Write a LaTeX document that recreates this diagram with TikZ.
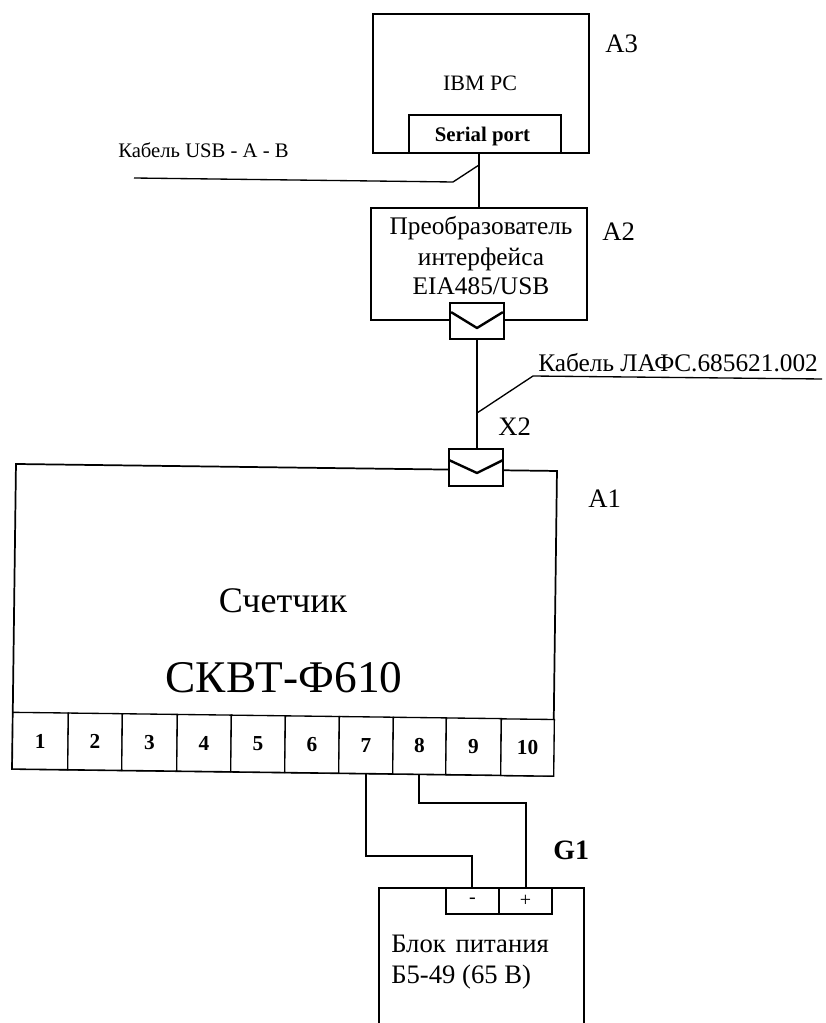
\documentclass[tikz,border=0pt]{standalone}
\usepackage{fontspec}
\setmainfont{Liberation Serif}
\usetikzlibrary{fit,calc}
\tikzset{
  box/.style={draw=black,line width=1.3pt,inner sep=0pt,rectangle},
  wire/.style={draw=black,line width=1.3pt,line join=miter},
  chev/.style={draw=black,line width=1.8pt,line join=round},
  lead/.style={draw=black,line width=1pt},
  txt/.style={inner sep=0pt,anchor=base,text=black},
  txtl/.style={inner sep=0pt,anchor=base west,text=black},
  cell/.style={draw=black,line width=1pt,inner sep=0pt,rectangle,rotate=-0.7,anchor=center},
}
\newcommand{\fsz}[1]{\fontsize{#1}{#1}\selectfont}
\begin{document}
\begin{tikzpicture}[x=0.75pt,y=-0.75pt]
\useasboundingbox (0,0) rectangle (825,1023);
\fill[white] (0,0) rectangle (825,1023);
% boxes
\node[box,fit={(373,14)(589,153)}] (pc) {};
\node[box,fill=white,fit={(409,115)(561,153)}] (serial) {};
\node[box,fit={(371,208)(587,320)}] (conv) {};
\node[box,rotate=-0.74,minimum width=405.8pt,minimum height=228.8pt,anchor=center] (a1) at (284.5,620) {};
\node[box,fill=white,fit={(450,303)(504,339)}] (cv) {};
\node[box,fill=white,fit={(449,449)(503,486)}] (cb) {};
% chevrons
\coordinate (cvm) at (477,328);
\coordinate (cbm) at (477,473);
\draw[chev] ($(cv.north west)+(2,10)$) -- (cvm) -- ($(cv.north east)+(-2,10)$);
\draw[chev] ($(cb.north west)+(1,12)$) -- (cbm) -- ($(cb.north east)+(-1,12)$);
% terminals
\foreach \n/\cx/\cy/\w in {1/40.3/741/55.5,2/95/741.7/54,3/149.5/742.4/55,4/204/743.1/54,5/258/743.8/54,6/312/744.5/54,7/366/745.2/54,8/419.5/745.9/53,9/473.5/746.6/55,10/527.5/747.5/53}{
  \node[cell,fill=white,minimum width=\w*0.75pt,minimum height=42.5pt] (t\n) at (\cx,\cy) {};
  \node[inner sep=0pt,font=\bfseries\fsz{16}] (n\n) at (t\n.center) {\n};
}
% power supply
\node[fit={(379,888)(584,1023)},inner sep=0pt] (psu) {};
\draw[wire] (psu.south west) -- (psu.north west) -- (psu.north east) -- (psu.south east);
\node[box,fit={(446,888)(499,914)}] (tm) {};
\node[box,fit={(499,888)(552,914)}] (tp) {};
\node[inner sep=0pt,font=\fsz{15}] (lm) at (tm.center) {-};
\node[inner sep=0pt,font=\fsz{15}] (lp) at (tp.center) {+};
% connectors
\draw[wire] (conv.north) -- (conv.north |- pc.south);
\coordinate (usbend) at (134,178);
\coordinate (usbknee) at (453,182);
\coordinate (usbtap) at (conv.north |- 0,165);
\draw[lead] (usbend) -- (usbknee) -- (usbtap);
\draw[wire] (cvm |- cv.south) -- (cvm |- cb.north);
\coordinate (cabend) at (822,379);
\coordinate (cabknee) at (533,376);
\coordinate (cabtap) at (cvm |- 0,413);
\draw[lead] (cabend) -- (cabknee) -- (cabtap);
\draw[wire] (t7.south) -- (t7.south |- 0,856) -| ($(tm.north)+(-0.5,0)$);
\draw[wire] (t8.south) -- (t8.south |- 0,803) -| ($(tp.north)+(0.6,0)$);
% text
\node[txt,font=\fsz{16.5}] (tpc) at (480,91) {IBM PC};
\node[txt,font=\bfseries\fsz{15.6}] (tser) at (482.5,142) {Serial port};
\node[txtl,font=\fsz{15.5}] (tusb) at (118,158) {Кабель USB - A - B};
\node[txt,font=\fsz{19}] (tc1) at (481,235) {Преобразователь};
\node[txt,font=\fsz{19}] (tc2) at (481,266) {интерфейса};
\node[txt,font=\fsz{19}] (tc3) at (481,295) {EIA485/USB};
\node[txtl,font=\fsz{19}] (tcab) at (538,371) {Кабель ЛАФС.685621.002};
\node[txtl,font=\fsz{20}] (tx2) at (498,435) {X2};
\node[txtl,font=\fsz{20}] (ta1) at (588,507) {A1};
\node[txtl,font=\fsz{20}] (ta2) at (602,241) {A2};
\node[txtl,font=\fsz{20}] (ta3) at (605,53) {A3};
\node[txt,font=\fsz{27}] (tm1) at (283,612) {Счетчик};
\node[txt,font=\fsz{34}] (tm2) at (284,692) {СКВТ-Ф610};
\node[txtl,font=\bfseries\fsz{21}] (tg1) at (553,859) {G1};
\node[txtl,font=\fsz{20}] (tb1) at (391,952) {Блок\hspace{0.12em} питания};
\node[txtl,font=\fsz{20}] (tb2) at (391,983) {Б5-49 (65 В)};
\end{tikzpicture}
\end{document}
